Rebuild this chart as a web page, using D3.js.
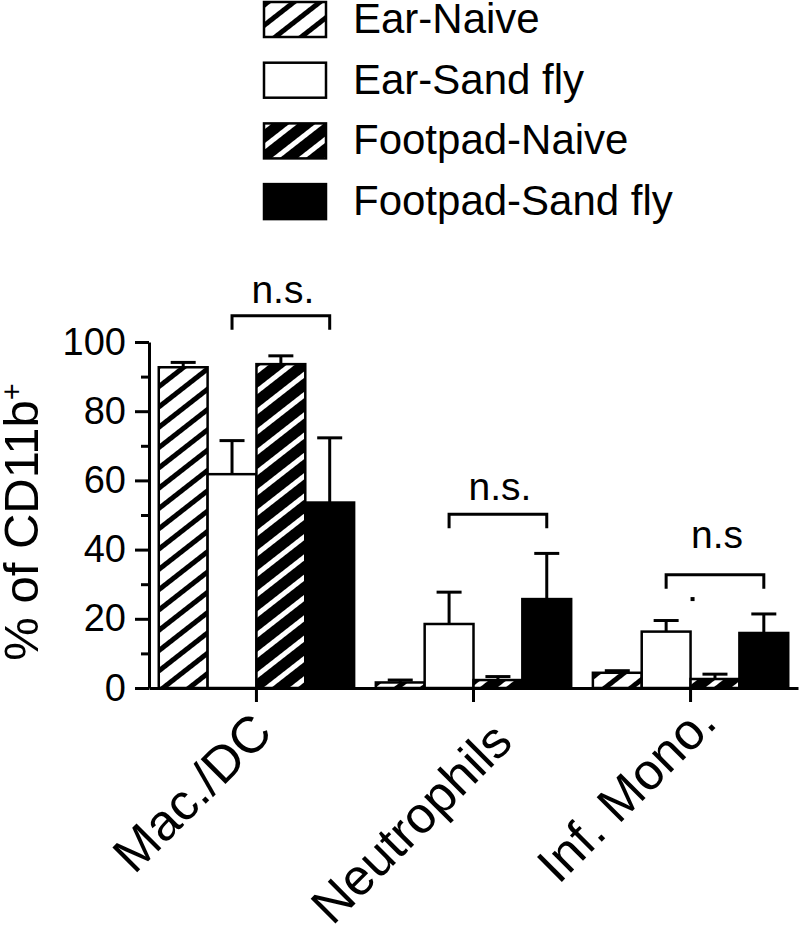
<!DOCTYPE html>
<html>
<head>
<meta charset="utf-8">
<script src="https://cdn.jsdelivr.net/npm/d3@7"></script>
<style>
  body { margin: 0; background: #fff; }
  svg { font-family: "Liberation Sans", Arial, sans-serif; }
</style>
</head>
<body>
<script>
// data
var groups = ["Mac./DC", "Neutrophils", "Inf. Mono."];
var series = ["Ear-Naive", "Ear-Sand fly", "Footpad-Naive", "Footpad-Sand fly"];

var earNaive       = [92.7, 1.6, 4.4];
var earSandfly     = [61.8, 18.5, 16.3];
var footpadNaive   = [93.6, 2.3, 2.6];
var footpadSandfly = [53.6, 25.7, 15.9];

var earNaiveErr       = [1.4, 0.7, 0.6];
var earSandflyErr     = [9.7, 9.2, 3.2];
var footpadNaiveErr   = [2.4, 1.0, 1.4];
var footpadSandflyErr = [18.7, 13.2, 5.5];

var yMajor = [0, 20, 40, 60, 80, 100];
var yMinor = [10, 30, 50, 70, 90];

// significance brackets (Ear-Sand fly vs Footpad-Sand fly)
var bracketTop   = [107.6, 50.2, 32.7];
var bracketText  = ["n.s.", "n.s.", "n.s"];
var bracketTextY = [111.3, 54.3, 40.5];

var means = [earNaive, earSandfly, footpadNaive, footpadSandfly];
var errs  = [earNaiveErr, earSandflyErr, footpadNaiveErr, footpadSandflyErr];

var data = [];
groups.forEach(function(g, gi) {
  series.forEach(function(s, si) {
    data.push({group: g, series: s, mean: means[si][gi], err: errs[si][gi]});
  });
});

var width  = 800;
var height = 928;

var svg = d3.select("body")
            .append("svg")
            .attr("width", width)
            .attr("height", height);

// hatch patterns
var defs = svg.append("defs");
defs.append("pattern")
    .attr("id", "hatchLight")
    .attr("patternUnits", "userSpaceOnUse")
    .attr("width", 16).attr("height", 16)
    .attr("patternTransform", "rotate(52)")
    .call(function(p) {
      p.append("rect").attr("width", 16).attr("height", 16).attr("fill", "#fff");
      p.append("rect").attr("width", 5).attr("height", 16).attr("fill", "#000");
    });
defs.append("pattern")
    .attr("id", "hatchDark")
    .attr("patternUnits", "userSpaceOnUse")
    .attr("width", 16).attr("height", 16)
    .attr("patternTransform", "rotate(52)")
    .call(function(p) {
      p.append("rect").attr("width", 16).attr("height", 16).attr("fill", "#000");
      p.append("rect").attr("width", 5).attr("height", 16).attr("fill", "#fff");
    });

var fills = {
  "Ear-Naive": "url(#hatchLight)",
  "Ear-Sand fly": "#fff",
  "Footpad-Naive": "url(#hatchDark)",
  "Footpad-Sand fly": "#000"
};

var x0 = d3.scaleBand().domain(groups).range([149, 798]).paddingInner(0.1).paddingOuter(0.045);
var x1 = d3.scaleBand().domain(series).range([0, x0.bandwidth()]);
var y  = d3.scaleLinear().domain([0, 100]).range([688, 342]);

// bars
svg.append("g").selectAll("rect")
   .data(data)
   .enter().append("rect")
           .attr("x", function(d) { return x0(d.group) + x1(d.series); })
           .attr("y", function(d) { return y(d.mean); })
           .attr("width", x1.bandwidth())
           .attr("height", function(d) { return y(0) - y(d.mean); })
           .attr("fill", function(d) { return fills[d.series]; })
           .attr("stroke", "#000")
           .attr("stroke-width", 2.5);

// error bars
var eb = svg.append("g").attr("stroke", "#000").attr("stroke-width", 3);
data.forEach(function(d) {
  var cx = x0(d.group) + x1(d.series) + x1.bandwidth() / 2;
  eb.append("line").attr("x1", cx).attr("x2", cx)
    .attr("y1", y(d.mean)).attr("y2", y(d.mean + d.err));
  eb.append("line").attr("x1", cx - 12.5).attr("x2", cx + 12.5)
    .attr("y1", y(d.mean + d.err)).attr("y2", y(d.mean + d.err));
});

// y axis
var yAxis = svg.append("g")
   .attr("transform", "translate(149,0)")
   .call(d3.axisLeft(y).tickValues(yMajor).tickSize(14).tickSizeOuter(0).tickPadding(9));
svg.append("g")
   .attr("transform", "translate(149,0)")
   .call(d3.axisLeft(y).tickValues(yMinor).tickSize(8).tickFormat(""))
   .select(".domain").remove();

// x axis
var xAxis = svg.append("g")
   .attr("transform", "translate(0," + y(0) + ")")
   .call(d3.axisBottom(x0).tickSize(14).tickSizeOuter(0));
// Neutrophils sits a little lower along its slant in the original
var nudge = {"Neutrophils": [-20, 23]};
xAxis.selectAll(".tick text")
     .style("text-anchor", "middle")
     .attr("x", 0).attr("y", 0)
     .attr("dx", function(d) { return nudge[d] ? nudge[d][0] : 0; })
     .attr("dy", function(d) { return nudge[d] ? nudge[d][1] : 0; })
     .attr("transform", "translate(-52,117) rotate(-45)");

svg.selectAll(".domain, .tick line").attr("stroke", "#000").attr("stroke-width", 3);
svg.selectAll(".tick text").attr("fill", "#000");
yAxis.selectAll("text").style("font-size", "38px");
xAxis.selectAll("text").style("font-size", "51px");
svg.selectAll("g").attr("font-family", null);

// y title
svg.append("text")
   .attr("transform", "translate(38,522) rotate(-90)")
   .style("text-anchor", "middle")
   .style("font-size", "49px")
   .text("% of CD11b")
   .append("tspan")
   .attr("dy", "-0.55em")
   .style("font-size", "29px")
   .text("+");

// brackets
var br = svg.append("g");
groups.forEach(function(g, gi) {
  var xa = x0(g) + x1(series[1]) + x1.bandwidth() / 2;
  var xb = x0(g) + x1(series[3]) + x1.bandwidth() / 2;
  var yt = y(bracketTop[gi]);
  br.append("path")
    .attr("d", "M" + xa + "," + (yt + 14) + "V" + yt + "H" + xb + "V" + (yt + 14))
    .attr("fill", "none").attr("stroke", "#000").attr("stroke-width", 3);
  br.append("text")
    .attr("x", (xa + xb) / 2 + 2)
    .attr("y", y(bracketTextY[gi]))
    .style("text-anchor", "middle")
    .style("font-size", "39px")
    .text(bracketText[gi]);
});
// stray dot under the last bracket
br.append("rect")
  .attr("x", x0(groups[2]) + x1(series[2]))
  .attr("y", y(25.7) - 2)
  .attr("width", 4).attr("height", 4)
  .attr("fill", "#000");

// legend
var legend = svg.append("g").selectAll("g")
   .data(series)
   .enter().append("g")
           .attr("transform", function(d, i) { return "translate(264," + (2 + i * 60.7) + ")"; });
legend.append("rect")
      .attr("width", 62).attr("height", 35)
      .attr("fill", function(d) { return fills[d]; })
      .attr("stroke", "#000").attr("stroke-width", 2.5);
legend.append("text")
      .attr("x", 89).attr("y", 31)
      .style("font-size", "42px")
      .text(function(d) { return d; });
</script>
</body>
</html>
